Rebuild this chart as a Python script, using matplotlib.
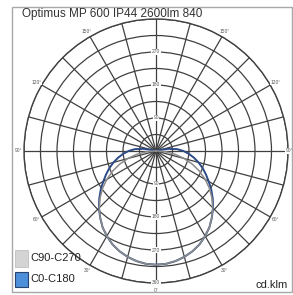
import numpy as np
import matplotlib.pyplot as plt
from matplotlib.patches import Rectangle

title = 'Optimus MP 600 IP44 2600lm 840'
unit = 'cd.klm'
series_names = ['C90-C270', 'C0-C180']

# gamma angle from nadir (deg) and luminous intensity (cd/klm)
gamma = [0, 5, 10, 15, 20, 25, 30, 35, 40, 45, 50, 55, 60, 65, 70, 75, 80, 85,
         90, 95, 100, 105, 110, 120, 135, 150, 165, 180]
c90_c270 = [310, 309, 305, 299, 291, 281, 268, 254, 237, 219, 199, 178, 155,
            131, 106, 80, 54, 27, 6, 0, 0, 0, 0, 0, 0, 0, 0, 0]
c0_c180 = [310, 309, 305, 299, 291, 281, 268, 254, 237, 220, 202, 184, 166,
           150, 135, 120, 105, 90, 75, 58, 34, 10, 0, 0, 0, 0, 0, 0]

ring_values = [45, 90, 135, 180, 225, 270, 315, 360]
top_ring_labels = [90, 180, 270]
bottom_ring_labels = [90, 180, 270, 360]
angle_labels = [30, 60, 90, 120, 150]

plt.rcParams['font.family'] = ['Liberation Sans', 'DejaVu Sans']
W, H = 293, 295
fig = plt.figure(figsize=(W / 100, H / 100), dpi=100)

# outer frame
fig.add_artist(Rectangle((12 / W, 1 - 292 / H), 280 / W, 285 / H,
                         transform=fig.transFigure, fill=False,
                         ec='#a8a8a8', lw=1))

ax = fig.add_axes([24 / W, 1 - 283 / H, 264 / W, 264 / H], projection='polar')
ax.set_theta_zero_location('S')
ax.set_ylim(0, 360)
ax.set_thetagrids(np.arange(0, 360, 15), labels=[])
ax.set_rgrids(ring_values, labels=[])
ax.grid(color='#404040', lw=0.9)
ax.spines['polar'].set_color('#404040')
ax.spines['polar'].set_linewidth(1.0)

g = np.array(gamma, dtype=float)
th = np.radians(np.concatenate([-g[::-1], g[1:]]))
i90 = np.array(c90_c270, dtype=float)
i0 = np.array(c0_c180, dtype=float)
ax.plot(th, np.concatenate([i0[::-1], i0[1:]]), color='#2d4a86', lw=1.4, zorder=3)
ax.plot(th, np.concatenate([i90[::-1], i90[1:]]), color='#8c8c8c', lw=1.1, zorder=4)

lbl = dict(fontsize=3.5, color='#555555', ha='center', va='center', zorder=5,
           bbox=dict(facecolor='white', edgecolor='none', pad=0.4))
for r in top_ring_labels:
    ax.text(np.pi, r, str(r), **lbl)
for r in bottom_ring_labels:
    ax.text(0, r, str(r), **lbl)

for a in angle_labels:
    for s in (1, -1):
        rr = 363 if (a == 90 and s == 1) else 376
        ax.text(np.radians(s * a), rr, f'{a}°', fontsize=3.5, color='#555555',
                ha='center', va='center', clip_on=False, zorder=5,
                bbox=dict(facecolor='white', edgecolor='none', pad=0.2))
ax.text(0, 380, '0°', fontsize=3.5, color='#555555', ha='center',
        va='center', clip_on=False)

fig.text(22 / W, 1 - 14 / H, title, fontsize=8.5, color='#333333',
         ha='left', va='center')

# legend
fig.add_artist(Rectangle((15 / W, 1 - 267 / H), 13 / W, 17 / H,
                         transform=fig.transFigure, fc='#d4d4d4', ec='#c0c0c0', lw=0.6))
fig.add_artist(Rectangle((15 / W, 1 - 287 / H), 13 / W, 15 / H,
                         transform=fig.transFigure, fc='#4d8fd8', ec='#2a4270', lw=0.8))
fig.text(30 / W, 1 - 258 / H, series_names[0], fontsize=8, color='#222222', va='center')
fig.text(30 / W, 1 - 279 / H, series_names[1], fontsize=8, color='#222222', va='center')

fig.text(288 / W, 1 - 285 / H, unit, fontsize=8, color='#222222', ha='right', va='center')

fig.savefig('out.png', dpi=100)
